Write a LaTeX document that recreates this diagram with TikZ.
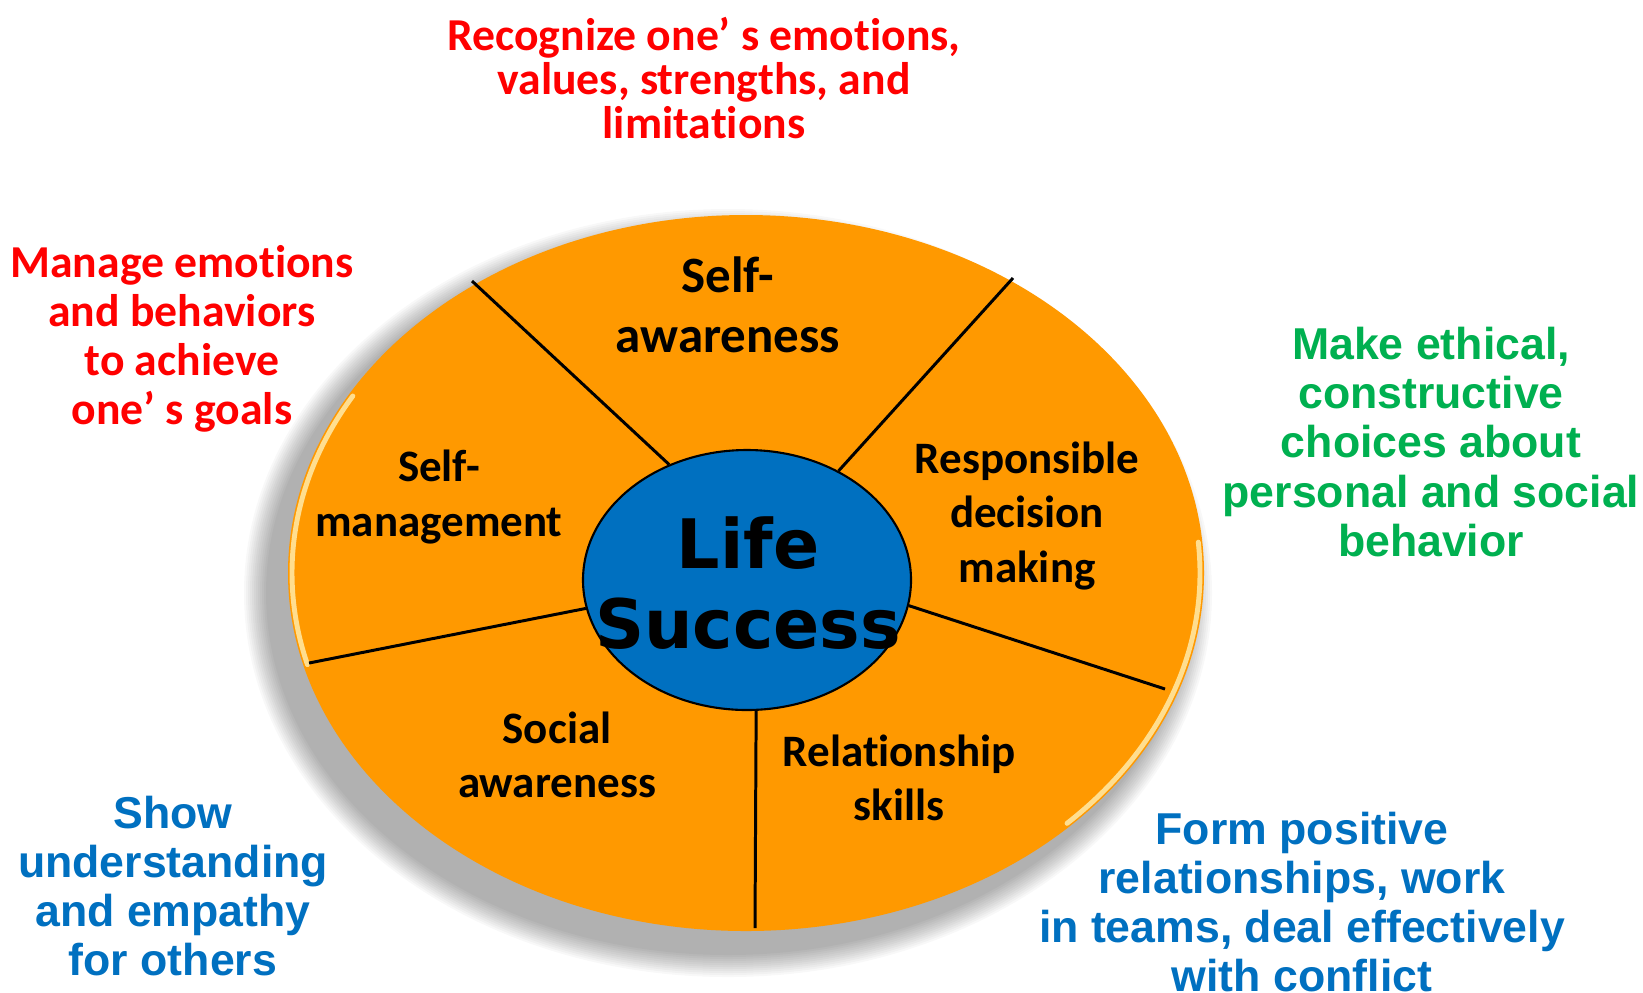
\documentclass[tikz,border=0pt]{standalone}
\usepackage{fontspec}
\usepackage{tikz}
\usetikzlibrary{shapes.geometric}
\setmainfont{Carlito}[Ligatures=NoCommon]
\newfontfamily\arialfont{Liberation Sans}
\newfontfamily\verdanafont{DejaVu Sans}
\definecolor{discorange}{HTML}{FF9900}
\definecolor{coreblue}{HTML}{0070C0}
\definecolor{goalred}{HTML}{FF0000}
\definecolor{goalgreen}{HTML}{00B050}
\definecolor{goalblue}{HTML}{0070C0}
\definecolor{rimyellow}{HTML}{FFF6C0}

\begin{document}
\begin{tikzpicture}[every node/.style={align=center, inner sep=0pt},
  spoke/.style={draw=black, line width=0.85pt},
  part/.style={font=\bfseries\fontsize{12.8}{15.5}\selectfont},
  goalcal/.style={text=goalred, font=\bfseries\fontsize{13}{12.4}\selectfont},
  goalarial/.style={font=\arialfont\bfseries\fontsize{12.7}{14}\selectfont},
  rim/.style={draw=rimyellow, line width=1.4pt, line cap=round, opacity=0.75}]

\fill[white] (0,0) rectangle (16.43,-9.92);
\useasboundingbox (0,0) rectangle (16.43,-9.92);

% --- shadow and disc ---
\foreach \k in {0,...,11}
  \fill[black, opacity=0.028] (7.28,-5.93) ellipse ({4.84-0.02*\k} and {3.84-0.02*\k});
\node[ellipse, fill=discorange, minimum width=9.16cm, minimum height=7.16cm] (disc) at (7.46,-5.73) {};
\draw[rim] ([shift={(150:4.54 and 3.54)}]disc.center) arc[start angle=150, end angle=195, x radius=4.54, y radius=3.54];
\draw[rim] ([shift={(-45:4.54 and 3.54)}]disc.center) arc[start angle=-45, end angle=5, x radius=4.54, y radius=3.54];

% --- centre ---
\node[ellipse, draw=black, line width=0.6pt, fill=coreblue, minimum width=3.28cm, minimum height=2.6cm] (core) at (7.47,-5.80) {};
\node[font=\verdanafont\bfseries\fontsize{19.4}{23}\selectfont] (life) at (7.48,-5.83) {Life\\Success};

% --- spokes ---
\coordinate (rimA) at (4.72,-2.81);
\coordinate (rimB) at (10.13,-2.78);
\coordinate (rimC) at (11.65,-6.89);
\coordinate (rimD) at (7.55,-9.28);
\coordinate (rimE) at (3.09,-6.63);
\draw[spoke] (core.124) -- (rimA);
\draw[spoke] (core.50) -- (rimB);
\draw[spoke] (core.-9) -- (rimC);
\draw[spoke] (core.-86) -- (rimD);
\draw[spoke] (core.190) -- (rimE);

% --- parts ---
\node[font=\bfseries\fontsize{14.5}{17}\selectfont] (selfaware) at (7.28,-3.05) {Self-\\awareness};
\node[part] (selfmanage) at (4.39,-4.97) {Self-\\management};
\node[part] (decision) at (10.27,-5.16) {Responsible\\decision\\making};
\node[part] (social) at (5.57,-7.55) {Social\\awareness};
\node[part] (relation) at (8.99,-7.78) {Relationship\\skills};

% --- goals ---
\node[goalcal] (recognize) at (7.04,-0.78) {Recognize one’ s emotions,\\values, strengths, and\\limitations};
\node[goalcal, font=\bfseries\fontsize{13}{13.9}\selectfont] (manage) at (1.82,-3.39) {Manage emotions\\and behaviors\\to achieve\\one’ s goals};
\node[goalarial, text=goalgreen] (ethical) at (14.31,-4.42) {Make ethical,\\constructive\\choices about\\personal and social\\behavior};
\node[goalarial, text=goalblue] (positive) at (13.02,-9.02) {Form positive\\relationships, work\\in teams, deal effectively\\with conflict};
\node[goalarial, text=goalblue] (empathy) at (1.73,-8.86) {Show\\understanding\\and empathy\\for others};

\end{tikzpicture}
\end{document}
